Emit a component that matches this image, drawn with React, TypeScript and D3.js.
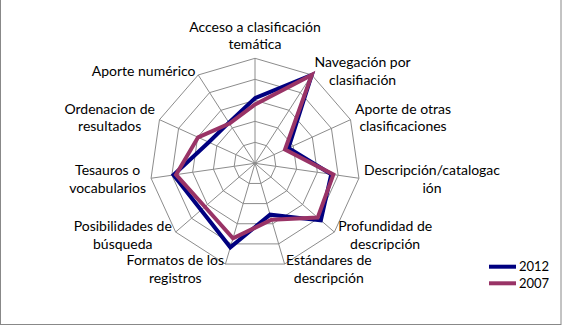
import React, { useMemo } from "react";
import * as d3 from "d3";

const categories: string[] = [
  "Acceso a clasificación\ntemática",
  "Navegación por\nclasifiación",
  "Aporte de otras\nclasificaciones",
  "Descripción/catalogac\nión",
  "Profundidad de\ndescripción",
  "Estándares de\ndescripción",
  "Formatos de los\nregistros",
  "Posibilidades de\nbúsqueda",
  "Tesauros o\nvocabularios",
  "Ordenacion de\nresultados",
  "Aporte numérico",
];

const values2012: number[] = [3.1, 5, 1.75, 3.67, 4.15, 2.55, 4.17, 3.4, 3.92, 2.42, 2.3];
const values2007: number[] = [2.8, 5, 1.57, 3.77, 3.95, 2.8, 3.72, 3.16, 3.8, 2.98, 2.25];

const seriesNames: string[] = ["2012", "2007"];
const seriesColors: string[] = ["#000080", "#993366"];
const levels: number[] = [1, 2, 3, 4, 5];

const W = 562;
const H = 326;
const CX = 255;
const CY = 163.3;
const R = 105;
const FONT = "Lato, 'Open Sans', sans-serif";
const LABEL_SIZE = 14;
const LINE_H = 17.7;

function measure(text: string, size: number): number {
  const c = document.createElement("canvas");
  const ctx = c.getContext("2d");
  if (!ctx) return text.length * size * 0.5;
  ctx.font = `${size}px ${FONT}`;
  return ctx.measureText(text).width;
}

export default function App() {
  const n = categories.length;
  const r = d3.scaleLinear().domain([0, 5]).range([0, R]);
  const angle = d3.scaleLinear().domain([0, n]).range([0, 2 * Math.PI]);
  const pt = (i: number, v: number): [number, number] => {
    const a = angle(i);
    return [CX + r(v) * Math.sin(a), CY - r(v) * Math.cos(a)];
  };

  const radial = d3
    .lineRadial<number>()
    .angle((_, i) => angle(i))
    .radius((d) => r(d))
    .curve(d3.curveLinearClosed);

  const labels = useMemo(() => {
    return categories.map((c, i) => {
      const lines = c.split("\n");
      const a = angle(i);
      const s = Math.sin(a);
      const co = -Math.cos(a);
      const px = CX + (R + 5) * s;
      const py = CY + (R + 5) * co;
      const widths = lines.map((l) => measure(l, LABEL_SIZE));
      const bw = Math.max(...widths);
      const bh = lines.length * LINE_H;
      let cx = px;
      if (s > 0.1) cx = px + bw / 2;
      else if (s < -0.1) cx = px - bw / 2;
      let cy = py;
      if (Math.abs(s) <= 0.1) cy = co < 0 ? py - bh / 2 : py + bh / 2;
      return { lines, cx, top: cy - bh / 2 };
    });
  }, []);

  const vals = [values2012, values2007];

  return (
    <svg
      width={W}
      height={H}
      style={{ position: "absolute", left: 0, top: 0, background: "#fff" }}
      fontFamily={FONT}
    >
      <rect x={0.5} y={-5} width={W - 1.5} height={H - 1.5 + 5} fill="#fff" stroke="#888" strokeWidth={1} />
      <g transform={`translate(${CX},${CY})`}>
        {levels.map((l) => (
          <path
            key={l}
            d={radial(categories.map(() => l)) || ""}
            fill="none"
            stroke="#8c8c8c"
            strokeWidth={1}
          />
        ))}
        {categories.map((_, i) => {
          const [x, y] = pt(i, 5);
          return <line key={i} x1={0} y1={0} x2={x - CX} y2={y - CY} stroke="#8c8c8c" strokeWidth={1} />;
        })}
        {vals.map((v, k) => (
          <path
            key={k}
            d={radial(v) || ""}
            fill="none"
            stroke={seriesColors[k]}
            strokeWidth={4}
            strokeLinejoin="miter"
          />
        ))}
      </g>
      {labels.map((lb, i) => (
        <text key={i} fontSize={LABEL_SIZE} fill="#000" textAnchor="middle">
          {lb.lines.map((l, j) => (
            <tspan key={j} x={lb.cx} y={lb.top + LINE_H * (j + 0.5)} dy="0.35em">
              {l}
            </tspan>
          ))}
        </text>
      ))}
      {seriesNames.map((s, k) => (
        <g key={s} transform={`translate(489,${266.7 + k * 16.6})`}>
          <line x1={0} x2={27} y1={0} y2={0} stroke={seriesColors[k]} strokeWidth={4} />
          <text x={30} y={0} dy="0.35em" fontSize={13} fill="#000">
            {s}
          </text>
        </g>
      ))}
    </svg>
  );
}
